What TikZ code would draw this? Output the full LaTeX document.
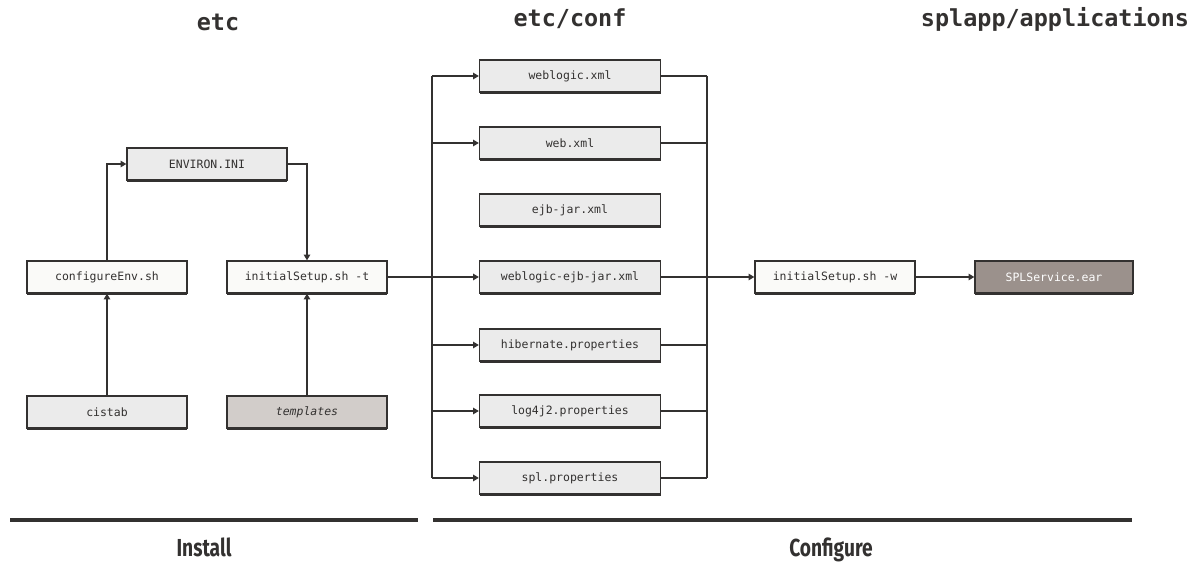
\documentclass[tikz,border=0pt]{standalone}
\usepackage{fontspec}
\setmonofont{DejaVu Sans Mono}
\newfontfamily\labfont{Fira Sans}
\usetikzlibrary{arrows.meta,shadows}
\definecolor{boxgray}{HTML}{EBEBEB}
\definecolor{boxwhite}{HTML}{FAFAF8}
\definecolor{tplgray}{HTML}{D2CDCA}
\definecolor{eargray}{HTML}{9B918C}
\definecolor{ink}{HTML}{333130}
\begin{document}
\begin{tikzpicture}[x=0.03cm,y=-0.03cm,
  filebox/.style={draw=ink,line width=1pt,fill=boxgray,minimum width=4.8cm,minimum height=0.96cm,
    inner sep=0pt,font=\ttfamily\fontsize{9.8}{11}\selectfont,text=ink,
    drop shadow={shadow xshift=0.4pt,shadow yshift=-1.8pt,opacity=1,fill=ink}},
  widebox/.style={filebox,minimum width=5.43cm},
  whitebox/.style={filebox,fill=boxwhite},
  link/.style={draw=ink,line width=1.6pt},
  arr/.style={link,-{Triangle[length=5pt,width=5.5pt]}},
  title/.style={font=\ttfamily\bfseries\fontsize{20}{24}\selectfont,text=ink,anchor=base},
  phase/.style={font=\labfont\bfseries\fontsize{21}{24}\selectfont,text=ink,xscale=0.78,anchor=base},
  rule/.style={draw=ink,line width=4pt}]
\useasboundingbox (0,0) rectangle (1203,562);

% titles
\node[title] (t1) at (218,31) {etc};
\node[title] (t2) at (570,27) {etc/conf};
\node[title] (t3) at (1055,27) {splapp/applications};

% install column
\node[filebox] (env) at (207,164) {ENVIRON.INI};
\node[whitebox] (cfg) at (107,277) {configureEnv.sh};
\node[whitebox] (ist) at (307,277) {initialSetup.sh -t};
\node[filebox] (cis) at (107,412) {cistab};
\node[filebox,fill=tplgray] (tpl) at (307,412) {\itshape templates};

% configure column
\node[widebox] (wl) at (570,76) {weblogic.xml};
\node[widebox] (web) at (570,143) {web.xml};
\node[widebox] (ejb) at (570,210) {ejb-jar.xml};
\node[widebox] (wej) at (570,277) {weblogic-ejb-jar.xml};
\node[widebox] (hib) at (570,345) {hibernate.properties};
\node[widebox] (log) at (570,411) {log4j2.properties};
\node[widebox] (spl) at (570,478) {spl.properties};

\node[whitebox] (isw) at (835,277) {initialSetup.sh -w};
\node[filebox,fill=eargray,text=white,minimum width=4.74cm] (ear) at (1054,277) {SPLService.ear};

% buses
\coordinate (lt) at (432,76);
\coordinate (lb) at (432,478);
\coordinate (rt) at (707,76);
\coordinate (rb) at (707,478);

% install connectors
\draw[arr] (cfg.north) |- (env.west);
\draw[arr] (env.east) -| (ist.north);
\draw[arr] (cis.north) -- (cfg.south);
\draw[arr] (tpl.north) -- (ist.south);

% fan out
\draw[link] (lt) -- (lb);
\draw[arr] (ist.east) -- (wej.west);
\draw[arr] (lt) -- (wl.west);
\draw[arr] (web.west -| lt) -- (web.west);
\draw[arr] (hib.west -| lt) -- (hib.west);
\draw[arr] (log.west -| lt) -- (log.west);
\draw[arr] (lb) -- (spl.west);

% fan in
\draw[link] (rt) -- (rb);
\draw[link] (wl.east) -- (rt);
\draw[link] (web.east) -- (web.east -| rt);
\draw[link] (hib.east) -- (hib.east -| rt);
\draw[link] (log.east) -- (log.east -| rt);
\draw[link] (spl.east) -- (rb);
\draw[arr] (wej.east) -- (isw.west);
\draw[arr] (isw.east) -- (ear.west);

% phases
\coordinate (i1) at (10,520);
\coordinate (i2) at (418,520);
\coordinate (c1) at (433,520);
\coordinate (c2) at (1132,520);
\draw[rule] (i1) -- (i2);
\draw[rule] (c1) -- (c2);
\node[phase] (inst) at (204,556) {Install};
\node[phase] (conf) at (831,556) {Configure};
\end{tikzpicture}
\end{document}
